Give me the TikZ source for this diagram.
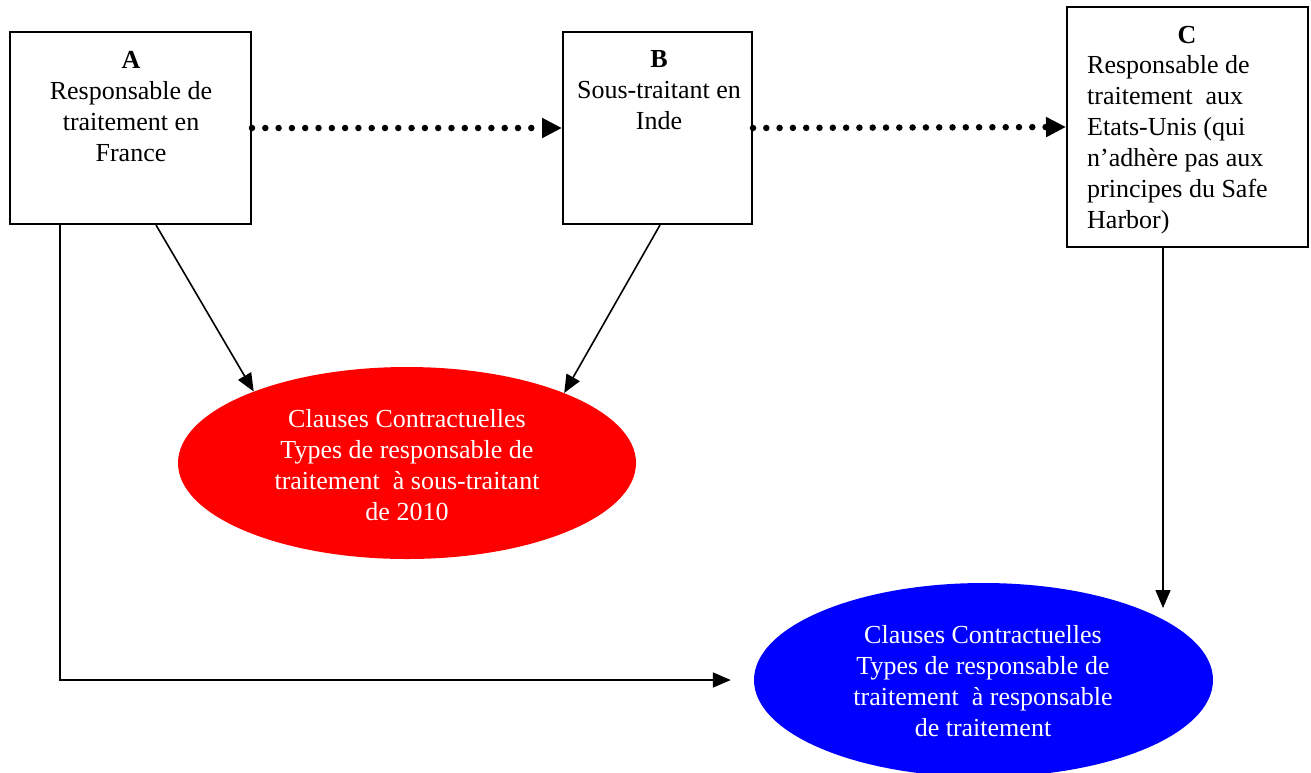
\documentclass[tikz,border=0pt]{standalone}
\usepackage{fontspec}
\setmainfont{Liberation Serif}
\usetikzlibrary{arrows.meta,shapes.geometric}
\begin{document}
\begin{tikzpicture}[x=1pt,y=-1pt,
  box/.style={draw,line width=2pt,inner sep=0pt},
  txt/.style={inner sep=0pt,align=center,font=\fontsize{26}{31}\selectfont},
  txtl/.style={inner sep=0pt,align=left,font=\fontsize{26}{31}\selectfont},
  oval/.style={ellipse,draw=none,inner sep=0pt},
  solidarrow/.style={line width=1.6pt,-{Triangle[length=18pt,width=15pt]}},
  dotarrow/.style={line width=6.5pt,line cap=round,dash pattern=on 0pt off 13.3pt,-{Triangle[length=20pt,width=19pt]}}
]
\useasboundingbox (0,0) rectangle (1311,772);
% boxes
\node[box,minimum width=241pt,minimum height=192pt] (A) at (130.5,128) {};
\node[box,minimum width=189pt,minimum height=192pt] (B) at (657.5,128) {};
\node[box,minimum width=241pt,minimum height=240pt] (C) at (1187.5,127) {};
% box texts (anchor base = baseline of last line)
\node[txt,anchor=base] (At) at (131,161) {\textbf{A}\\Responsable de\\traitement en\\France};
\node[txt,anchor=base] (Bt) at (659,129) {\textbf{B}\\Sous-traitant en\\Inde};
\node[txt,anchor=base] (Ct) at (1187,43) {\textbf{C}};
\node[txtl,anchor=base west] (Cb) at (1087,228) {Responsable de\\traitement\ \ aux\\Etats-Unis (qui\\n’adhère pas aux\\principes du Safe\\Harbor)};
% ellipses
\node[oval,fill=red,minimum width=458pt,minimum height=192pt] (R) at (407,463) {};
\node[oval,fill=blue,minimum width=459pt,minimum height=194pt] (U) at (983.5,680) {};
\node[txt,text=white,anchor=base] (Rt) at (407,520) {Clauses Contractuelles\\Types de responsable de\\traitement\ \ à sous-traitant\\de 2010};
\node[txt,text=white,anchor=base] (Ut) at (983,736) {Clauses Contractuelles\\Types de responsable de\\traitement\ \ à responsable\\de traitement};
% connectors
\draw[dotarrow] (A.east) -- (B.west);
\draw[dotarrow] (B.west -| B.east) -- (C.west);
\draw[solidarrow] ([xshift=25.5pt]A.south) -- (R.155.8);
\draw[solidarrow] ([xshift=2.5pt]B.south) -- (R.24.2);
\coordinate (Ctip) at ([xshift=-24.5pt,yshift=-360pt]C.south);
\draw[solidarrow] ([xshift=-24.5pt]C.south) -- (Ctip);
\coordinate (Utip) at ([xshift=-23pt]U.west);
\draw[solidarrow] ([xshift=-70.5pt]A.south) |- (Utip);
\end{tikzpicture}
\end{document}
